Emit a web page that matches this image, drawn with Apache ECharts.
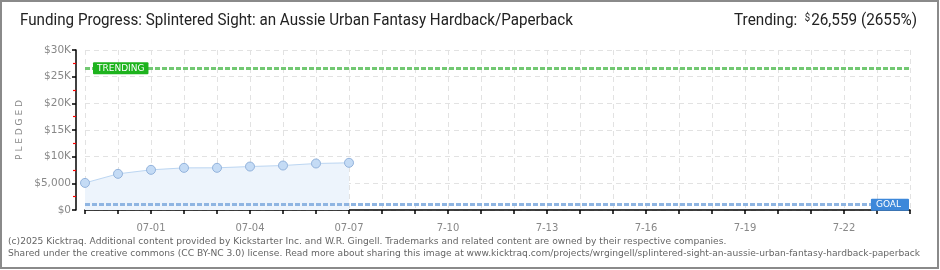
<!DOCTYPE html>
<html><head><meta charset="utf-8">
<script src="https://cdn.jsdelivr.net/npm/echarts@6/dist/echarts.min.js"></script>
<style>html,body{margin:0;padding:0;background:#fff}#c{width:940px;height:270px}</style>
</head><body><div id="c"></div>
<script>
const titleText = 'Funding Progress: Splintered Sight: an Aussie Urban Fantasy Hardback/Paperback';
const trendingValue = 26559;
const trendingPct = '2655%';
const goalValue = 1000;
const days = ['06-29','06-30','07-01','07-02','07-03','07-04','07-05','07-06','07-07','07-08','07-09','07-10','07-11','07-12','07-13','07-14','07-15','07-16','07-17','07-18','07-19','07-20','07-21','07-22','07-23','07-24'];
const pledged = [5080, 6780, 7530, 7900, 7910, 8150, 8340, 8720, 8850];
const xTickDays = ['07-01','07-04','07-07','07-10','07-13','07-16','07-19','07-22'];
const xTickLabels = ['07-01','07-04','07-07','7-10','7-13','7-16','7-19','7-22'];
const yTickValues = [0,5000,10000,15000,20000,25000,30000];
const yTickLabels = ['$0','$5,000','$10K','$15K','$20K','$25K','$30K'];
const footer1 = '(c)2025 Kicktraq. Additional content provided by Kickstarter Inc. and W.R. Gingell. Trademarks and related content are owned by their respective companies.';
const footer2 = 'Shared under the creative commons (CC BY-NC 3.0) license. Read more about sharing this image at www.kicktraq.com/projects/wrgingell/splintered-sight-an-aussie-urban-fantasy-hardback-paperback';

const cv = document.createElement('canvas').getContext('2d');
function measure(txt, font){ cv.font = font; return cv.measureText(txt).width; }
const titleFont = '16px Roboto';
const titleScale = 553 / measure(titleText, titleFont);
const trendStr = 'Trending:  ' + '$' + trendingValue.toLocaleString('en-US') + ' (' + trendingPct + ')';
const trendScale = 182 / (measure('Trending:  ', titleFont) + measure('$','10px Roboto') + measure(trendingValue.toLocaleString('en-US')+' ('+trendingPct+')', titleFont));

const chart = echarts.init(document.getElementById('c'), null, {renderer:'canvas'});
const xLabelMap = {}; xTickDays.forEach((d,i)=>xLabelMap[d]=xTickLabels[i]);
const yLabelMap = {}; yTickValues.forEach((v,i)=>yLabelMap[v]=yTickLabels[i]);

chart.setOption({
  animation:false,
  backgroundColor:'#fff',
  grid:{left:85,right:30,top:50,bottom:60,containLabel:false},
  xAxis:{
    type:'category', data:days, boundaryGap:false, offset:10,
    axisLine:{lineStyle:{color:'#000',width:1.5}},
    axisTick:{show:true,interval:0,length:4,lineStyle:{color:'#000',width:1.5}},
    axisLabel:{interval:(i,v)=>xLabelMap[v]!==undefined,formatter:v=>xLabelMap[v]||'',color:'#888',fontFamily:'DejaVu Sans',fontSize:10,margin:3},
    splitLine:{show:true,interval:0,lineStyle:{color:'#e2e2e2',type:[5,4]}}
  },
  yAxis:{
    type:'value', min:0, max:30000, interval:5000, offset:9,
    axisLine:{show:true,lineStyle:{color:'#000',width:1.5}},
    axisTick:{show:true,length:4,lineStyle:{color:'#000',width:1.5}},
    minorTick:{show:true,splitNumber:2,length:3,lineStyle:{color:'#f00',width:1.2}},
    axisLabel:{formatter:v=>yLabelMap[v]||'',color:'#888',fontFamily:'DejaVu Sans',fontSize:10.5,margin:5},
    splitLine:{show:true,lineStyle:{color:'#e2e2e2',type:[5,4]}}
  },
  series:[{
    type:'line', data:pledged, symbol:'circle', symbolSize:9,
    lineStyle:{color:'#bcd6f2',width:1},
    itemStyle:{color:'#c4dbf5',borderColor:'#93b3dc',borderWidth:1},
    areaStyle:{color:'#edf4fc',opacity:1},
    z:3,
    markLine:{
      silent:true, symbol:['none','none'], label:{show:false},
      data:[
        {yAxis:trendingValue, lineStyle:{color:'#72c872',width:3,type:[5,2]}},
        {yAxis:goalValue, lineStyle:{color:'#8fb5e2',width:3,type:[5,2]}}
      ]
    },
    markPoint:{
      silent:true, symbol:'rect', symbolSize:0,
      data:[
        {coord:[days[0],trendingValue],label:{show:true,position:'right',distance:8,formatter:'TRENDING',color:'#fff',fontFamily:'DejaVu Sans',fontSize:9,backgroundColor:'#1db31d',padding:[2,4,1,4],borderRadius:1}},
        {coord:[days[days.length-1],goalValue],label:{show:true,position:'left',distance:1,formatter:'GOAL',color:'#fff',fontFamily:'DejaVu Sans',fontSize:9,backgroundColor:'#3d88da',padding:[2,8,1,5],borderRadius:1}}
      ]
    }
  }],
  graphic:[
    {type:'rect',shape:{x:1,y:1,width:937,height:267},style:{fill:'none',stroke:'#8a8a8a',lineWidth:2},silent:true},
    {type:'text',x:20,y:13,scaleX:titleScale,style:{text:titleText,font:titleFont,fill:'#222'}},
    {type:'text',x:917,y:13,scaleX:trendScale,style:{align:'right',rich:{a:{font:titleFont,fill:'#222'},s:{font:'10px Roboto',fill:'#222',verticalAlign:'top',padding:[0,1,6,0]}},text:'{a|Trending:  }{s|$}{a|'+trendingValue.toLocaleString('en-US')+' ('+trendingPct+')}'}},
    {type:'text',x:20,y:130,rotation:Math.PI/2,style:{text:'P L E D G E D',font:'9px "DejaVu Sans"',fill:'#888',align:'center',verticalAlign:'middle'}},
    {type:'text',left:8,top:237,style:{text:footer1,font:'9.15px "DejaVu Sans"',fill:'#666'}},
    {type:'text',left:8,top:249,style:{text:footer2,font:'9.15px "DejaVu Sans"',fill:'#666'}}
  ]
});
</script></body></html>
